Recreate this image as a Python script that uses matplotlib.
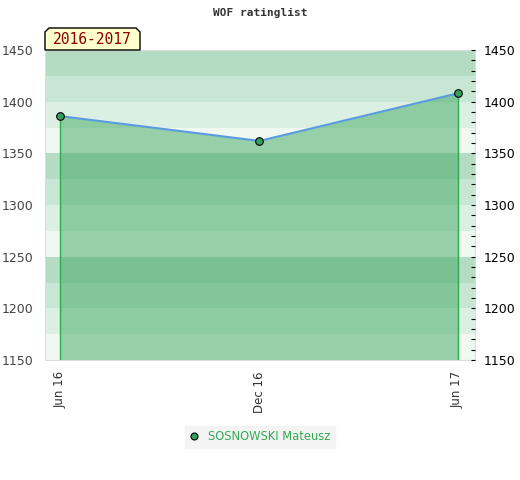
import numpy as np
import matplotlib
matplotlib.use("Agg")
import matplotlib.pyplot as plt
import matplotlib.dates as mdates
from matplotlib.patches import Polygon
import datetime as dt

# datos
fechas = [dt.date(2016, 6, 1), dt.date(2016, 12, 1), dt.date(2017, 6, 1)]
rating = [1386, 1362, 1408]
etiquetas_x = ["Jun 16", "Dec 16", "Jun 17"]
jugador = "SOSNOWSKI Mateusz"
periodo = "2016-2017"
titulo = "WOF ratinglist"

# colores de las franjas (cada 25 puntos, se repiten cada 100)
franjas = ["#f0f8f2", "#dcefe3", "#c8e6d4", "#b3dcc3"]

fig = plt.figure(figsize=(5.2, 4.8), dpi=100)
ax = fig.add_axes([45/520, 120/480, 430/520, 310/480])

ymin, ymax = 1150, 1450
for i, y0 in enumerate(range(ymin, ymax, 25)):
    ax.axhspan(y0, y0 + 25, color=franjas[i % 4], lw=0, zorder=0)

x = mdates.date2num(fechas)
ax.fill_between(x, rating, ymin, color="#40a860", alpha=0.5, lw=0, zorder=1)
ax.vlines([x[0], x[-1]], ymin, [rating[0], rating[-1]], color="#2eaa50", lw=1, zorder=2)
ax.plot(x, rating, color="#5a9be0", lw=1.5, zorder=3)
ax.plot(x, rating, "o", ms=5.5, mfc="#33a060", mec="black", mew=0.8, zorder=4)

ax.set_xlim(x[0] - 14, x[-1] + 16)
ax.set_ylim(ymin, ymax)

ax.set_xticks(x)
ax.set_xticklabels(etiquetas_x, rotation=90, fontsize=8.5, color="#333333")
ax.tick_params(axis="x", length=0, pad=8)
ax.set_yticks(np.arange(ymin, ymax + 1, 50))
ax.tick_params(axis="y", length=0, labelsize=9, labelcolor="#444444", pad=8)

for s in ax.spines.values():
    s.set_color("#dddddd")

# eje derecho
ax2 = ax.twinx()
ax2.set_ylim(ymin, ymax)
ax2.set_yticks(np.arange(ymin, ymax + 1, 50))
ax2.set_yticks(np.arange(ymin, ymax + 1, 10), minor=True)
ax2.tick_params(axis="y", which="both", direction="in", length=3, width=0.8,
                labelsize=9, labelcolor="black", pad=6)
for s in ax2.spines.values():
    s.set_visible(False)

# titulo
fig.text(0.5, 1 - 13/480, titulo, ha="center", va="center", fontsize=8,
         family="DejaVu Sans Mono", weight="bold", color="#333333")

# caja del periodo
x0, x1 = 45/520, 140/520
y0, y1 = 1 - 50/480, 1 - 28/480
c = 4/520
cy = 4/480
caja = Polygon([(x0, y0), (x0, y1 - cy), (x0 + c, y1), (x1 - c, y1), (x1, y1 - cy), (x1, y0)],
               closed=True, transform=fig.transFigure, fc="#ffffcc", ec="black", lw=1, zorder=5)
fig.patches.append(caja)
fig.text((x0 + x1) / 2, (y0 + y1) / 2 - 1/480, periodo, ha="center", va="center",
         fontsize=10.5, family="DejaVu Sans Mono", color="#8b0000", zorder=6)

# leyenda
ley = ax.legend([plt.Line2D([], [], ls="", marker="o", ms=5, mfc="#33a060", mec="black", mew=0.8)],
                [jugador], loc="center", bbox_to_anchor=(260/520, 1 - 437/480),
                bbox_transform=fig.transFigure, frameon=True, fancybox=False,
                fontsize=8.3, handlelength=0.8, handletextpad=0.8, borderpad=0.4)
ley.get_frame().set_facecolor("#f2f2f2")
ley.get_frame().set_edgecolor("#f2f2f2")
for t in ley.get_texts():
    t.set_color("#33aa55")

fig.savefig("out.png", dpi=100)
